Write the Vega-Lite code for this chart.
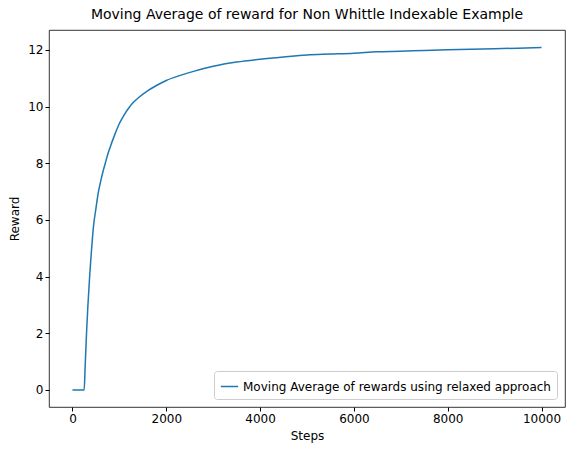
{
  "$schema": "https://vega.github.io/schema/vega-lite/v6.json",
  "width": 577,
  "height": 453,
  "autosize": {"type": "fit", "contains": "padding"},
  "padding": {"left": 8, "right": 12, "top": 8, "bottom": 12},
  "title": {"text": "Moving Average of reward for Non Whittle Indexable Example", "fontSize": 14, "fontWeight": "normal", "font": "DejaVu Sans", "color": "black", "offset": 8},
  "data": {
    "values": [
      {"step": 0, "reward": 0}, {"step": 250, "reward": 0}, {"step": 270, "reward": 0.8},
      {"step": 300, "reward": 2.0}, {"step": 330, "reward": 3.0}, {"step": 370, "reward": 4.1},
      {"step": 400, "reward": 4.8}, {"step": 450, "reward": 5.8}, {"step": 500, "reward": 6.4},
      {"step": 550, "reward": 6.95}, {"step": 600, "reward": 7.35}, {"step": 650, "reward": 7.7},
      {"step": 700, "reward": 8.0}, {"step": 750, "reward": 8.3}, {"step": 800, "reward": 8.55},
      {"step": 900, "reward": 9.0}, {"step": 1000, "reward": 9.4}, {"step": 1100, "reward": 9.7},
      {"step": 1200, "reward": 9.95}, {"step": 1300, "reward": 10.15}, {"step": 1400, "reward": 10.3},
      {"step": 1600, "reward": 10.55}, {"step": 1800, "reward": 10.75}, {"step": 2000, "reward": 10.92},
      {"step": 2300, "reward": 11.1}, {"step": 2600, "reward": 11.25}, {"step": 3000, "reward": 11.42},
      {"step": 3500, "reward": 11.57}, {"step": 4000, "reward": 11.67}, {"step": 4500, "reward": 11.75},
      {"step": 5000, "reward": 11.82}, {"step": 5500, "reward": 11.85}, {"step": 6000, "reward": 11.88},
      {"step": 6500, "reward": 11.93}, {"step": 7000, "reward": 11.95}, {"step": 7500, "reward": 11.98},
      {"step": 8000, "reward": 12.0}, {"step": 8500, "reward": 12.02}, {"step": 9000, "reward": 12.04},
      {"step": 9500, "reward": 12.06}, {"step": 10000, "reward": 12.08}
    ]
  },
  "transform": [{"calculate": "'Moving Average of rewards using relaxed approach'", "as": "series"}],
  "mark": {"type": "line", "strokeWidth": 1.5, "interpolate": "monotone"},
  "encoding": {
    "x": {"field": "step", "type": "quantitative", "title": "Steps",
      "scale": {"domain": [-500, 10500], "nice": false},
      "axis": {"values": [0, 2000, 4000, 6000, 8000, 10000], "format": "d"}},
    "y": {"field": "reward", "type": "quantitative", "title": "Reward",
      "scale": {"domain": [-0.6, 12.7], "nice": false, "zero": false},
      "axis": {"values": [0, 2, 4, 6, 8, 10, 12]}},
    "color": {"field": "series", "type": "nominal", "scale": {"range": ["#1f77b4"]},
      "legend": {"title": null, "orient": "bottom-right", "strokeColor": "#cccccc", "fillColor": "white",
        "padding": 6, "cornerRadius": 3, "labelFontSize": 12, "symbolType": "stroke", "symbolSize": 300, "labelLimit": 450, "offset": 8}}
  },
  "config": {
    "font": "DejaVu Sans",
    "view": {"stroke": "black", "strokeWidth": 0.8},
    "axis": {"grid": false, "domain": false, "tickColor": "black", "labelColor": "black", "titleColor": "black",
      "labelFontSize": 12, "titleFontSize": 12, "titleFontWeight": "normal", "tickSize": 4, "labelFlush": false, "titlePadding": 6}
  }
}
